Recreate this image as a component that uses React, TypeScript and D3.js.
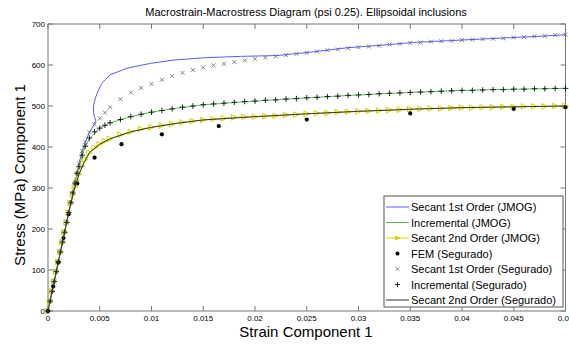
import * as d3 from 'd3';
import * as React from 'react';

// strain grid used by the Segurado marker series and the JMOG 2nd order curve
const strainSeg = [
  0, 0.0002, 0.0004, 0.0006, 0.0008, 0.001, 0.0012, 0.0014, 0.0016, 0.0018, 0.002, 0.0022, 0.0024, 0.0026,
  0.0028, 0.003, 0.0033, 0.0036, 0.004, 0.0045, 0.005, 0.0055, 0.006, 0.007, 0.008, 0.009, 0.01, 0.011,
  0.012, 0.013, 0.014, 0.015, 0.016, 0.017, 0.018, 0.019, 0.02, 0.021, 0.022, 0.023, 0.024, 0.025, 0.026,
  0.027, 0.028, 0.029, 0.03, 0.031, 0.032, 0.033, 0.034, 0.035, 0.036, 0.037, 0.038, 0.039, 0.04, 0.041,
  0.042, 0.043, 0.044, 0.045, 0.046, 0.047, 0.048, 0.049, 0.05,
];

const sec1SegStress = [
  0, 24, 48, 72, 96, 120, 144, 168, 192, 216, 240, 264, 288, 312, 336, 360, 390, 412, 436, 455, 470, 484,
  497, 517, 533, 544, 554, 564, 573, 581, 588, 594, 599, 603, 607, 611, 615, 618, 621, 624, 627, 630, 633,
  636, 638, 641, 643, 645, 647, 650, 652, 654, 655, 657, 658, 659, 661, 662, 663, 664, 665, 667, 668, 670,
  671, 673, 674,
];

const incSegStress = [
  0, 24, 48, 72, 96, 120, 144, 168, 192, 216, 240, 264, 288, 312, 336, 352, 380, 402, 422, 437, 446, 453,
  459, 467, 474, 480, 485, 489, 493, 497, 500, 503, 505, 507, 509, 511, 512, 514, 515, 517, 518, 520, 521,
  523, 524, 526, 527, 528, 530, 531, 532, 533, 534, 535, 536, 537, 538, 538, 539, 540, 540, 541, 541, 542,
  542, 543, 543,
];

const sec2JmogStress = [
  0, 24, 48, 72, 96, 120, 144, 168, 192, 216, 240, 264, 285, 302, 318, 334, 354, 370, 386, 398, 407, 414,
  420, 430, 437, 444, 448, 452, 456, 460, 463, 466, 468, 470, 472, 473, 474, 475, 476, 478, 479, 481, 482,
  483, 485, 486, 487, 488, 489, 490, 491, 492, 493, 494, 494, 495, 496, 496, 497, 497, 498, 498, 499, 499,
  499, 500, 500,
];

const sec1JmogStrain = [
  0, 0.001, 0.002, 0.003, 0.0033, 0.0036, 0.004, 0.0044, 0.00462, 0.0045, 0.0044, 0.0044, 0.00455, 0.0048,
  0.0052, 0.006, 0.0076, 0.0099, 0.0121, 0.0153, 0.0186, 0.0221, 0.0237, 0.0256, 0.0289, 0.0321, 0.0353,
  0.0385, 0.0417, 0.045, 0.0482, 0.05,
];
const sec1JmogStress = [
  0, 120, 240, 360, 390, 412, 436, 452, 464, 472, 484, 500, 517, 535, 555, 576, 592, 604, 612, 618, 621,
  623, 627, 632, 642, 648, 655, 659, 663, 667, 671, 674,
];

const incJmogStrain = [
  0, 0.001, 0.002, 0.003, 0.0035, 0.004, 0.005, 0.006, 0.008, 0.01, 0.0125, 0.015, 0.02, 0.025, 0.03, 0.035,
  0.04, 0.045, 0.05,
];
const incJmogStress = [0, 120, 240, 352, 395, 420, 446, 459, 474, 485, 495, 503, 512, 520, 527, 533, 538, 541, 543];

const sec2SegStrain = [
  0, 0.001, 0.002, 0.0025, 0.003, 0.0035, 0.004, 0.005, 0.006, 0.008, 0.01, 0.0125, 0.015, 0.02, 0.025, 0.03,
  0.035, 0.04, 0.045, 0.05,
];
const sec2SegStress = [0, 120, 240, 293, 334, 362, 386, 407, 420, 437, 448, 458, 466, 474, 481, 487, 492, 496, 498, 500];

const femStrain = [0, 0.0005, 0.001, 0.0015, 0.002, 0.00283, 0.0045, 0.0071, 0.011, 0.0165, 0.025, 0.035, 0.045, 0.05];
const femStress = [0, 60, 118, 178, 236, 311, 374, 407, 431, 451, 467, 482, 493, 497];

const xTicks = [0, 0.005, 0.01, 0.015, 0.02, 0.025, 0.03, 0.035, 0.04, 0.045, 0.05];
const xTickLabels = ['0', '0.005', '0.01', '0.015', '0.02', '0.025', '0.03', '0.035', '0.04', '0.045', '0.05'];
const yTicks = [0, 100, 200, 300, 400, 500, 600, 700];

const legendLabels = [
  'Secant 1st Order (JMOG)',
  'Incremental (JMOG)',
  'Secant 2nd Order (JMOG)',
  'FEM (Segurado)',
  'Secant 1st Order (Segurado)',
  'Incremental (Segurado)',
  'Secant 2nd Order (Segurado)',
];

const W = 569;
const H = 346;
const FONT = 'Liberation Sans, Arial, Helvetica, sans-serif';
const BLUE = '#5a5aff';
const GREEN = '#55bb55';
const YELLOW = '#d6d600';

const zip = (xs: number[], ys: number[]) => xs.map((v, i) => [v, ys[i]] as [number, number]);

const plusPath = (px: number, py: number, s = 2.8) =>
  `M${px - s},${py}H${px + s}M${px},${py - s}V${py + s}`;
const crossPath = (px: number, py: number, s = 2) =>
  `M${px - s},${py - s}L${px + s},${py + s}M${px - s},${py + s}L${px + s},${py - s}`;
const triPath = (px: number, py: number, s = 2.8) =>
  `M${px - s},${py - s}L${px + s},${py}L${px - s},${py + s}Z`;

const App = () => {
  const x = d3.scaleLinear().domain([0, 0.05]).range([48, 565.5]);
  const y = d3.scaleLinear().domain([0, 700]).range([311, 24]);
  const line = d3
    .line<[number, number]>()
    .x((d) => x(d[0]))
    .y((d) => y(d[1]));

  const sec1Seg = zip(strainSeg, sec1SegStress);
  const incSeg = zip(strainSeg, incSegStress);
  const sec2Jmog = zip(strainSeg, sec2JmogStress);
  const fem = zip(femStrain, femStress);

  const [x0, x1] = x.range();
  const [y0, y1] = y.range();

  // legend geometry
  const lgX = 384;
  const lgY = 196;
  const lgW = 179;
  const lgH = 111;
  const rowH = 15.5;

  return (
    <svg width={W} height={H} style={{ position: 'absolute', left: 0, top: 0, background: '#fff' }}>
      <text x={306} y={16} textAnchor="middle" fontFamily={FONT} fontSize={11}>
        Macrostrain-Macrostress Diagram (psi 0.25). Ellipsoidal inclusions
      </text>

      {/* axes box and ticks */}
      <rect x={x0} y={y1} width={x1 - x0} height={y0 - y1} fill="none" stroke="#777" strokeWidth={1} />
      {xTicks.map((t, i) => (
        <g key={'xt' + i}>
          <line x1={x(t)} x2={x(t)} y1={y0} y2={y0 - 5} stroke="#777" />
          <line x1={x(t)} x2={x(t)} y1={y1} y2={y1 + 5} stroke="#777" />
          <text x={x(t)} y={y0 + 10} textAnchor="middle" fontFamily={FONT} fontSize={8}>
            {xTickLabels[i]}
          </text>
        </g>
      ))}
      {yTicks.map((t) => (
        <g key={'yt' + t}>
          <line x1={x0} x2={x0 + 5} y1={y(t)} y2={y(t)} stroke="#777" />
          <line x1={x1} x2={x1 - 5} y1={y(t)} y2={y(t)} stroke="#777" />
          <text x={x0 - 3} y={y(t) + 3} textAnchor="end" fontFamily={FONT} fontSize={8}>
            {t}
          </text>
        </g>
      ))}

      <text x={306} y={337} textAnchor="middle" fontFamily={FONT} fontSize={15}>
        Strain Component 1
      </text>
      <text transform="translate(25,175) rotate(-90)" textAnchor="middle" fontFamily={FONT} fontSize={15}>
        Stress (MPa) Component 1
      </text>

      {/* series, in legend order */}
      <path d={line(zip(sec1JmogStrain, sec1JmogStress)) || ''} fill="none" stroke={BLUE} strokeWidth={1} />
      <path d={line(zip(incJmogStrain, incJmogStress)) || ''} fill="none" stroke={GREEN} strokeWidth={1} />
      <path d={line(sec2Jmog) || ''} fill="none" stroke={YELLOW} strokeWidth={1} />
      {sec2Jmog.map((d, i) => (
        <path key={'tri' + i} d={triPath(x(d[0]), y(d[1]))} fill="none" stroke={YELLOW} strokeWidth={1} />
      ))}
      {fem.map((d, i) => (
        <circle key={'fem' + i} cx={x(d[0])} cy={y(d[1])} r={2.1} fill="#000" />
      ))}
      {sec1Seg.map((d, i) => (
        <path key={'x' + i} d={crossPath(x(d[0]), y(d[1]))} fill="none" stroke="#666" strokeWidth={0.8} />
      ))}
      {incSeg.map((d, i) => (
        <path key={'p' + i} d={plusPath(x(d[0]), y(d[1]))} fill="none" stroke="#111" strokeWidth={0.9} />
      ))}
      <path d={line(zip(sec2SegStrain, sec2SegStress)) || ''} fill="none" stroke="#333" strokeWidth={1} />

      {/* legend */}
      <rect x={lgX} y={lgY} width={lgW} height={lgH} fill="#fff" stroke="#555" strokeWidth={1} />
      {legendLabels.map((lab, i) => {
        const cy = lgY + 11 + i * rowH;
        const sx0 = lgX + 2;
        const sx1 = lgX + 25;
        const mx = (sx0 + sx1) / 2;
        let sample: React.ReactNode = null;
        if (i === 0) sample = <line x1={sx0} x2={sx1} y1={cy} y2={cy} stroke={BLUE} />;
        if (i === 1) sample = <line x1={sx0} x2={sx1} y1={cy} y2={cy} stroke={GREEN} />;
        if (i === 2)
          sample = (
            <g>
              <line x1={sx0} x2={sx1} y1={cy} y2={cy} stroke={YELLOW} />
              <path d={triPath(mx, cy, 2)} fill={YELLOW} stroke={YELLOW} />
            </g>
          );
        if (i === 3) sample = <circle cx={mx} cy={cy} r={2} fill="#000" />;
        if (i === 4) sample = <path d={crossPath(mx, cy, 1.8)} stroke="#666" strokeWidth={0.8} />;
        if (i === 5) sample = <path d={plusPath(mx, cy, 2.5)} stroke="#111" strokeWidth={0.9} />;
        if (i === 6) sample = <line x1={sx0} x2={sx1} y1={cy} y2={cy} stroke="#333" />;
        return (
          <g key={'lg' + i}>
            {sample}
            <text x={lgX + 27} y={cy + 4} fontFamily={FONT} fontSize={11}>
              {lab}
            </text>
          </g>
        );
      })}
    </svg>
  );
};

export default App;
